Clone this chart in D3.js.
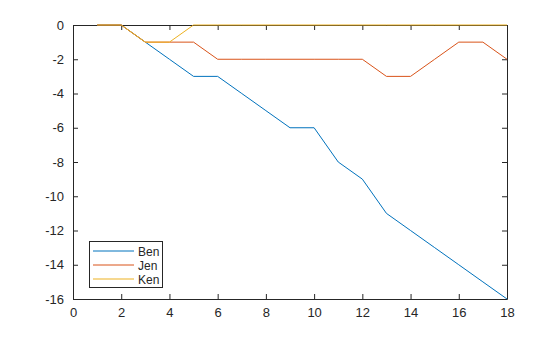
<!DOCTYPE html>
<html><head><meta charset="utf-8">
<script src="https://cdn.jsdelivr.net/npm/d3@7"></script>
<style>body{margin:0;background:#fff}svg{display:block}text{font-family:"Liberation Sans",Arial,sans-serif}</style>
</head><body><svg id="c" width="560" height="337"></svg>
<script>
const xs = [1,2,3,4,5,6,7,8,9,10,11,12,13,14,15,16,17,18];
const ben = [0,0,-1,-2,-3,-3,-4,-5,-6,-6,-8,-9,-11,-12,-13,-14,-15,-16];
const jen = [0,0,-1,-1,-1,-2,-2,-2,-2,-2,-2,-2,-3,-3,-2,-1,-1,-2];
const ken = [0,0,-1,-1,0,0,0,0,0,0,0,0,0,0,0,0,0,0];
const names = ["Ben","Jen","Ken"];
const colors = ["#0072BD","#D95319","#EDB120"];
const xTicks = [0,2,4,6,8,10,12,14,16,18];
const yTicks = [0,-2,-4,-6,-8,-10,-12,-14,-16];

const svg = d3.select("#c");
const L=73,R=507,T=25,B=299;
const x = d3.scaleLinear().domain([0,18]).range([L,R]);
const y = d3.scaleLinear().domain([-16,0]).range([B,T]);
const fmt = d => String(d);

function ax(gen, tx, ty){
  const g=svg.append("g").attr("transform",`translate(${tx},${ty})`).call(gen);
  g.select(".domain").attr("stroke","#262626");
  g.selectAll(".tick line").attr("stroke","#262626");
  g.selectAll("text").attr("fill","#262626").attr("font-size",13);
  return g;
}
ax(d3.axisBottom(x).tickValues(xTicks).tickFormat(fmt).tickSize(-5).tickPadding(9).tickSizeOuter(0),0,B);
ax(d3.axisLeft(y).tickValues(yTicks).tickFormat(fmt).tickSize(-5).tickPadding(9).tickSizeOuter(0),L,0);
ax(d3.axisTop(x).tickValues(xTicks).tickSize(-5).tickFormat("").tickSizeOuter(0),0,T);
ax(d3.axisRight(y).tickValues(yTicks).tickSize(-5).tickFormat("").tickSizeOuter(0),R,0);

const series=[ben,jen,ken];
const line = d3.line().x((d,i)=>x(xs[i])).y(d=>y(d));
series.forEach((s,k)=>{
  svg.append("path").attr("d",line(s)).attr("fill","none").attr("stroke",colors[k]).attr("stroke-width",1);
});

const lg=svg.append("g");
lg.append("rect").attr("x",89.5).attr("y",241.5).attr("width",73).attr("height",46).attr("fill","#fff").attr("stroke","#262626");
names.forEach((n,i)=>{
  const yy=251+i*14;
  lg.append("line").attr("x1",93).attr("x2",134).attr("y1",yy).attr("y2",yy).attr("stroke",colors[i]);
  lg.append("text").attr("x",138).attr("y",yy+4.5).attr("font-size",12).attr("fill","#262626").text(n);
});
</script></body></html>
